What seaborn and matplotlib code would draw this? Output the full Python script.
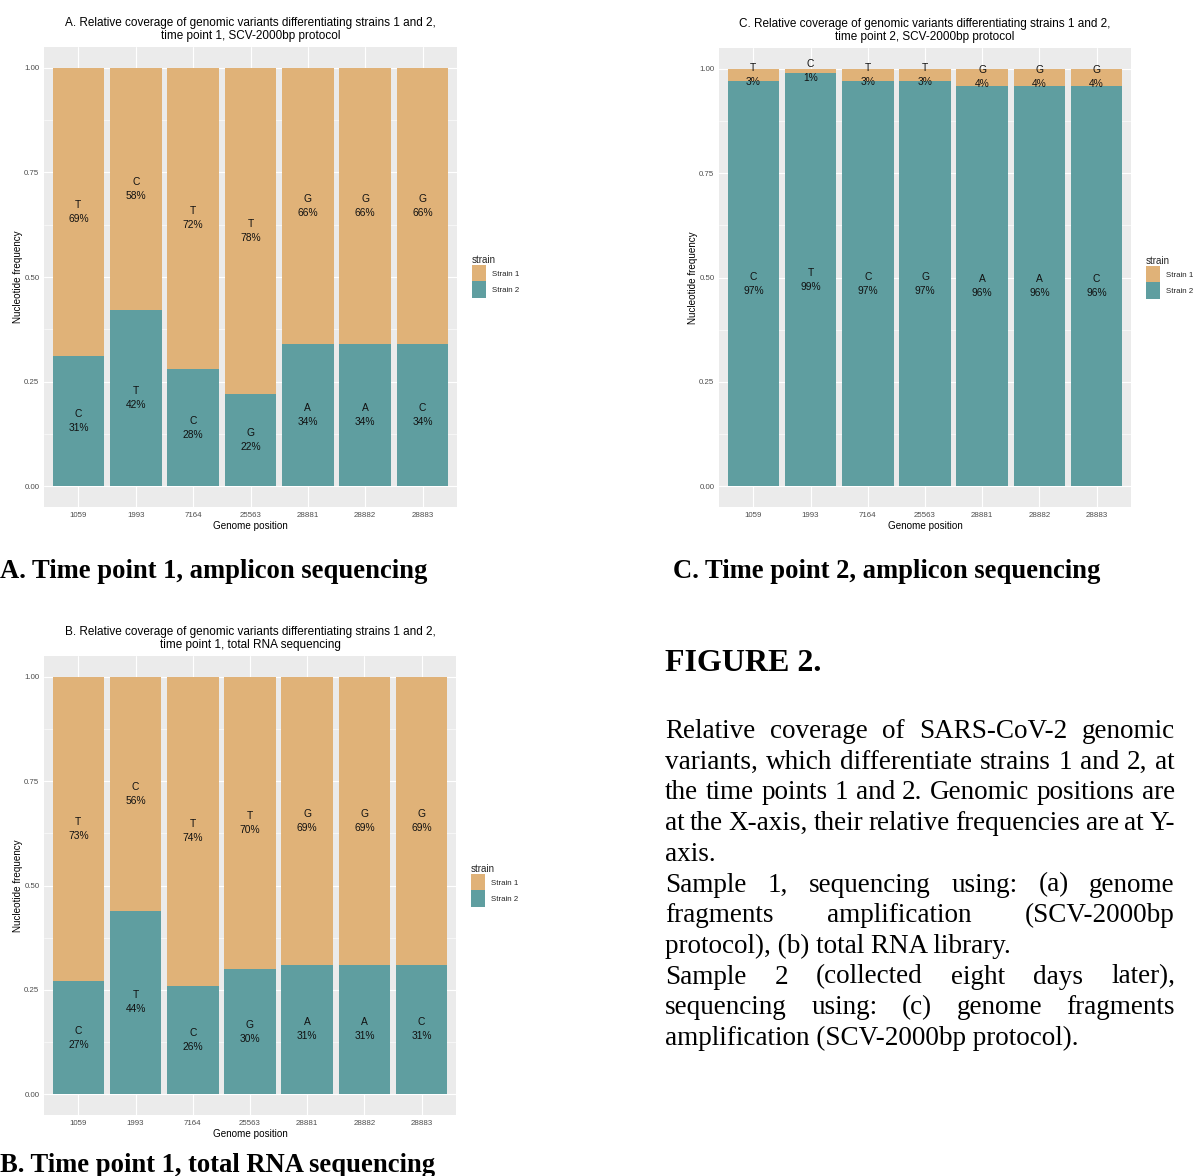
import numpy as np
import pandas as pd
import matplotlib
matplotlib.use("Agg")
import matplotlib.pyplot as plt
from matplotlib.patches import Patch
import seaborn as sns

# ---- data -------------------------------------------------------------
positions = ["1059", "1993", "7164", "25563", "28881", "28882", "28883"]

a_strain1_base = ["T", "C", "T", "T", "G", "G", "G"]
a_strain1_pct = [69, 58, 72, 78, 66, 66, 66]
a_strain2_base = ["C", "T", "C", "G", "A", "A", "C"]
a_strain2_pct = [31, 42, 28, 22, 34, 34, 34]

b_strain1_base = ["T", "C", "T", "T", "G", "G", "G"]
b_strain1_pct = [73, 56, 74, 70, 69, 69, 69]
b_strain2_base = ["C", "T", "C", "G", "A", "A", "C"]
b_strain2_pct = [27, 44, 26, 30, 31, 31, 31]

c_strain1_base = ["T", "C", "T", "T", "G", "G", "G"]
c_strain1_pct = [3, 1, 3, 3, 4, 4, 4]
c_strain2_base = ["C", "T", "C", "G", "A", "A", "C"]
c_strain2_pct = [97, 99, 97, 97, 96, 96, 96]

strain_labels = ["Strain 1", "Strain 2"]

titles = {
    "A": "A. Relative coverage of genomic variants differentiating strains 1 and 2,\ntime point 1, SCV-2000bp protocol",
    "B": "B. Relative coverage of genomic variants differentiating strains 1 and 2,\ntime point 1, total RNA sequencing",
    "C": "C. Relative coverage of genomic variants differentiating strains 1 and 2,\ntime point 2, SCV-2000bp protocol",
}
captions = {
    "A": "A. Time point 1, amplicon sequencing",
    "B": "B. Time point 1, total RNA sequencing",
    "C": "C. Time point 2, amplicon sequencing",
}
figure_heading = "FIGURE 2."
caption_paragraphs = [
    ["Relative coverage of SARS-CoV-2 genomic",
     "variants, which differentiate strains 1 and 2, at",
     "the time points 1 and 2. Genomic positions are",
     "at the X-axis, their relative frequencies are at Y-",
     "axis."],
    ["Sample 1, sequencing using: (a) genome",
     "fragments amplification (SCV-2000bp",
     "protocol), (b) total RNA library."],
    ["Sample 2 (collected eight days later),",
     "sequencing using: (c) genome fragments",
     "amplification (SCV-2000bp protocol)."],
]

# ---- styling ----------------------------------------------------------
W, H = 1196, 1176
COL_S1 = "#E0B278"
COL_S2 = "#5F9EA0"
PANEL_BG = "#EBEBEB"
SANS = ["Liberation Sans", "DejaVu Sans"]
SERIF = ["Liberation Serif", "DejaVu Serif"]

sns.set_style("white")
plt.rcParams["font.family"] = SANS

fig = plt.figure(figsize=(W / 100, H / 100), dpi=100)
fig.patch.set_facecolor("white")


def fx(px):
    return px / W


def fy(py):
    return 1 - py / H


def panel(key, left, top, right, bottom, s1_base, s1_pct, s2_base, s2_pct):
    ax = fig.add_axes([fx(left), fy(bottom), (right - left) / W, (bottom - top) / H])
    s1 = np.array(s1_pct) / 100.0
    s2 = np.array(s2_pct) / 100.0
    df = pd.DataFrame({"position": positions, "total": s1 + s2, "strain2": s2})

    ax.set_facecolor(PANEL_BG)
    ax.set_axisbelow(True)
    sns.barplot(data=df, x="position", y="total", order=positions, color=COL_S1,
                saturation=1, width=0.9, errorbar=None, linewidth=0, ax=ax)
    sns.barplot(data=df, x="position", y="strain2", order=positions, color=COL_S2,
                saturation=1, width=0.9, errorbar=None, linewidth=0, ax=ax)

    # labels in the middle of each stacked segment
    for i in range(len(positions)):
        ax.text(i, s2[i] + s1[i] / 2, f"{s1_base[i]}\n{s1_pct[i]}%", ha="center",
                va="center", fontsize=7.4, color="#111111", linespacing=1.5)
        ax.text(i, s2[i] / 2, f"{s2_base[i]}\n{s2_pct[i]}%", ha="center",
                va="center", fontsize=7.4, color="#111111", linespacing=1.5)

    ax.set_xlim(-0.6, len(positions) - 0.4)
    ax.set_ylim(-0.05, 1.05)
    ax.set_yticks([0, 0.25, 0.5, 0.75, 1.0])
    ax.set_yticklabels(["0.00", "0.25", "0.50", "0.75", "1.00"])
    ax.set_yticks([0.125, 0.375, 0.625, 0.875], minor=True)
    ax.grid(which="major", color="white", linewidth=0.8)
    ax.grid(which="minor", axis="y", color="white", linewidth=0.4)
    for s in ax.spines.values():
        s.set_visible(False)
    ax.tick_params(which="major", length=2.0, width=0.6, color="#333333",
                   labelsize=5.7, labelcolor="#4D4D4D", pad=1.3)
    ax.tick_params(which="minor", length=0)
    ax.set_xlabel("Genome position", fontsize=7.1, color="black", labelpad=1.5)
    ax.set_ylabel("Nucleotide frequency", fontsize=7.1, color="black", labelpad=1)

    cx = (left + right) / 2
    fig.text(fx(cx), fy(top - 5), titles[key], ha="center", va="bottom",
             fontsize=8.5, color="black", linespacing=1.12)

    handles = [Patch(facecolor=COL_S1, edgecolor="none"),
               Patch(facecolor=COL_S2, edgecolor="none")]
    fig.legend(handles, strain_labels, title="strain", loc="upper left",
               bbox_to_anchor=(fx(right + 15), fy(top + 208)),
               frameon=False, fontsize=5.7, title_fontsize=7.1,
               handlelength=1.8, handleheight=2.8, handletextpad=0.75,
               labelspacing=0.0, borderpad=0, borderaxespad=0,
               alignment="left")
    return ax


panel("A", 44, 47, 457, 507, a_strain1_base, a_strain1_pct, a_strain2_base, a_strain2_pct)
panel("C", 719, 48, 1131, 507, c_strain1_base, c_strain1_pct, c_strain2_base, c_strain2_pct)
panel("B", 44, 656, 456, 1115, b_strain1_base, b_strain1_pct, b_strain2_base, b_strain2_pct)

# ---- captions ---------------------------------------------------------
cap_kw = dict(fontsize=19.2, fontweight="bold", family=SERIF, color="black",
              va="baseline", ha="left")
fig.text(fx(0), fy(578), captions["A"], **cap_kw)
fig.text(fx(673), fy(578), captions["C"], **cap_kw)
fig.text(fx(0), fy(1172), captions["B"], **cap_kw)

fig.text(fx(665), fy(671), figure_heading, fontsize=23, fontweight="bold",
         family=SERIF, color="black", va="baseline", ha="left")

# justified body text
body_kw = dict(fontsize=19.5, family=SERIF, color="black", va="baseline", ha="left")
x_left, x_right = 665, 1175
line_step = 30.7
baseline = 738
renderer = fig.canvas.get_renderer()
for para in caption_paragraphs:
    for li, line in enumerate(para):
        last = li == len(para) - 1
        if last:
            fig.text(fx(x_left), fy(baseline), line, **body_kw)
        else:
            words = line.split(" ")
            texts = [fig.text(0, 0, w, **body_kw) for w in words]
            widths = [t.get_window_extent(renderer).width for t in texts]
            gap = (x_right - x_left - sum(widths)) / (len(words) - 1)
            x = x_left
            for t, w in zip(texts, widths):
                t.set_position((fx(x), fy(baseline)))
                x += w + gap
        baseline += line_step

fig.savefig("out.png", dpi=100, facecolor="white")
